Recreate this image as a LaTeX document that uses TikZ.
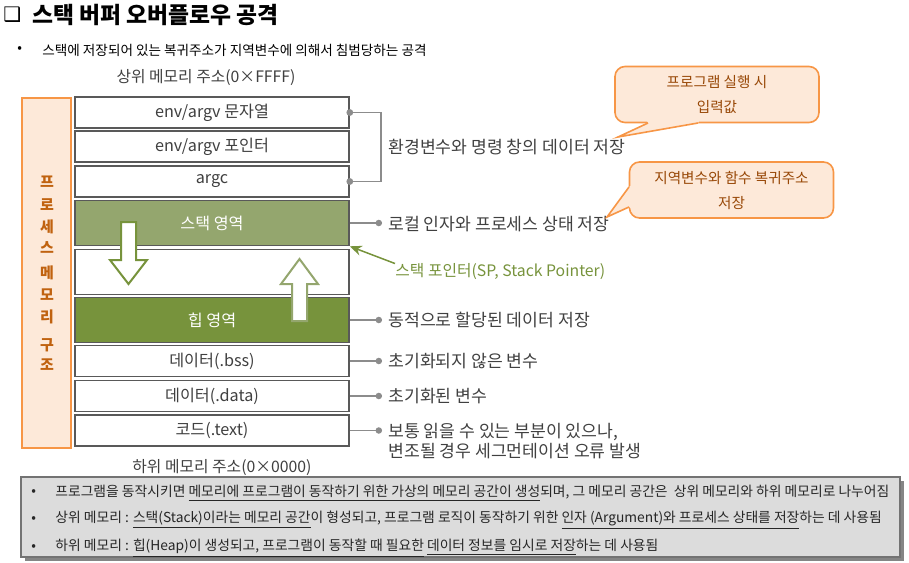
\documentclass[tikz,border=0pt]{standalone}
\usepackage{fontspec}
\setmainfont{Noto Sans CJK KR}
\newfontfamily\symfont{DejaVu Sans}
\usetikzlibrary{arrows.meta,shadows}

\definecolor{olivelight}{HTML}{94A66E}
\definecolor{olivedark}{HTML}{77933C}
\definecolor{peach}{HTML}{FDE9D9}
\definecolor{tangerine}{HTML}{F79646}
\definecolor{rust}{HTML}{C0620F}
\definecolor{textgray}{HTML}{404040}
\definecolor{leadgray}{HTML}{8C8C8C}
\definecolor{notegray}{HTML}{DCDCDC}
\definecolor{calltext}{HTML}{984807}

\begin{document}
\begin{tikzpicture}[
  x=0.5pt, y=-0.5pt,
  >=Stealth,
  every node/.style={font=\fontsize{7.9}{9.6}\selectfont, text=textgray},
  cell/.style={draw=black!65, line width=0.8pt, fill=white, minimum width=137pt, minimum height=15.5pt, inner sep=0pt, font=\fontsize{8.1}{9.6}\selectfont},
  bigcell/.style={cell, minimum height=22.5pt},
  region/.style={bigcell, text=white},
  lead/.style={draw=leadgray, line width=0.75pt, -{Circle[length=3.2pt]}, shorten >=3pt},
  note/.style={anchor=west, inner sep=0pt, font=\fontsize{8.6}{10.2}\selectfont},
  growth/.style={draw=olivedark, line width=1pt, fill=white, line join=miter},
  bubble/.style={draw=tangerine, line width=0.8pt, fill=peach, rounded corners=5pt, minimum width=102pt, minimum height=28pt, align=center, text=calltext, font=\fontsize{7.3}{12.5}\selectfont},
  tail/.style={draw=tangerine, line width=0.8pt},
  vchar/.style={text=rust, font=\fontsize{7.5}{9}\selectfont\bfseries, inner sep=0pt},
  point/.style={anchor=west, inner sep=0pt, font=\fontsize{6.9}{8}\selectfont, text=black!85}
]
  \useasboundingbox (0,0) rectangle (909,562);

  \node[anchor=west, inner sep=0pt, font=\symfont\fontsize{10}{12}\selectfont, text=black] (tick) at (3,15) {❑};
  \node[anchor=west, inner sep=0pt, font=\fontsize{11.4}{13}\selectfont\bfseries, text=black] (title) at (32,15) {스택 버퍼 오버플로우 공격};
  \node[point, text=black] (dot0) at (17,50) {\textbullet};
  \node[point, text=black, font=\fontsize{6.8}{8}\selectfont] (intro) at (42,50) {스택에 저장되어 있는 복귀주소가 지역변수에 의해서 침범당하는 공격};

  \node (hiaddr) at (206,78) {상위 메모리 주소(0×FFFF)};

  \node[draw=tangerine, fill=peach, line width=0.8pt, minimum width=24.5pt, minimum height=175pt, inner sep=0pt] (proc) at (46.5,273) {};
  \foreach \c/\y [count=\i] in {프/182,로/205,세/227,스/248,메/273,모/295,리/317,구/345,조/365}
    \node[vchar] (v\i) at (47,\y) {\c};

  \node[cell] (env1) at (212,112.5) {env/argv 문자열};
  \node[cell] (env2) at (212,146.5) {env/argv 포인터};
  \node[cell] (argc) at (212,181.5) {argc};
  \node[region, fill=olivelight] (stack) at (212,223) {스택 영역};
  \node[bigcell] (free) at (212,272) {};
  \node[region, fill=olivedark] (heap) at (212,320) {힙 영역};
  \node[cell] (bss) at (212,361) {데이터(.bss)};
  \node[cell] (data) at (212,396) {데이터(.data)};
  \node[cell] (code) at (212,430.5) {코드(.text)};
  \node (loaddr) at (222,468) {하위 메모리 주소(0×0000)};

  \draw[growth] (121,222) -- (136,222) -- (136,260) -- (147,260) -- (128.5,284) -- (110,260) -- (121,260) -- cycle;
  \draw[growth, draw=olivelight] (292,321) -- (292,284) -- (281,284) -- (299.5,259) -- (318,284) -- (307,284) -- (307,321) -- cycle;

  \coordinate (brx) at (381,147);
  \draw[draw=leadgray, line width=0.75pt] (env1.east) -| (brx) |- (argc.east);
  \fill[leadgray] (env1.east) circle[radius=1.7pt] (argc.east) circle[radius=1.7pt];
  \node[note] (envnote) at (388,147) {환경변수와 명령 창의 데이터 저장};

  \node[note] (stacknote) at (388,224) {로컬 인자와 프로세스 상태 저장};
  \node[note] (heapnote) at (388,320) {동적으로 할당된 데이터 저장};
  \node[note] (bssnote) at (388,361) {초기화되지 않은 변수};
  \node[note] (datanote) at (388,396) {초기화된 변수};
  \node[note, align=left, font=\fontsize{8.6}{10.2}\selectfont] (codenote) at (388,441) {보통 읽을 수 있는 부분이 있으나,\\변조될 경우 세그먼테이션 오류 발생};
  \draw[lead] (stack.east) -- (stack.east -| stacknote.west);
  \draw[lead] (heap.east) -- (heap.east -| heapnote.west);
  \draw[lead] (bss.east) -- (bss.east -| bssnote.west);
  \draw[lead] (data.east) -- (data.east -| datanote.west);
  \draw[lead] (code.east) -- (code.east -| codenote.west);

  \node[note, text=olivedark, font=\fontsize{7.9}{9.6}\selectfont] (spnote) at (395,272) {스택 포인터(SP, Stack Pointer)};
  \draw[->, draw=olivedark, line width=0.75pt, >={Stealth[length=6pt,width=5pt]}] (spnote.north west) -- (stack.south east);

  \node[bubble] (inbubble) at (717,94.5) {프로그램 실행 시\\입력값};
  \fill[peach] (646,119) -- (648,123) -- (618,137) -- (698,123) -- (700,119) -- cycle;
  \draw[tail] (648,123) -- (618,137) -- (698,123);

  \node[bubble] (retbubble) at (731.5,190) {지역변수와 함수 복귀주소\\저장};
  \fill[peach] (632,185) -- (629,187) -- (607,217) -- (629,207) -- (632,209) -- cycle;
  \draw[tail] (629,187) -- (607,217) -- (629,207);

  \node[draw=black!55, fill=notegray, line width=0.6pt, minimum width=439.5pt, minimum height=40pt, inner sep=0pt,
        drop shadow={shadow xshift=2pt, shadow yshift=-2pt, fill=black!60, opacity=0.8}] (summary) at (460.5,517) {};
  \node[point] (dot1) at (31,493) {\textbullet};
  \node[point] (dot2) at (31,520) {\textbullet};
  \node[point] (dot3) at (31,548) {\textbullet};
  \node[point] (line1) at (55,493) {프로그램을 동작시키면 \underline{메모리에 프로그램이 동작하기 위한 가상의 메모리 공간이 생성}되며, 그 메모리 공간은 \ 상위 메모리와 하위 메모리로 나누어짐};
  \node[point] (line2) at (55,520) {상위 메모리 : \underline{스택(Stack)이라는 메모리 공간}이 형성되고, 프로그램 로직이 동작하기 위한 \underline{인자 (Argument)와 프로세스 상태를 저장}하는 데 사용됨};
  \node[point] (line3) at (55,548) {하위 메모리 : \underline{힙(Heap)이 생성되고, 프로그램이 동작할 때 필요한} \underline{데이터 정보를 임시로 저장}하는 데 사용됨};
\end{tikzpicture}
\end{document}
